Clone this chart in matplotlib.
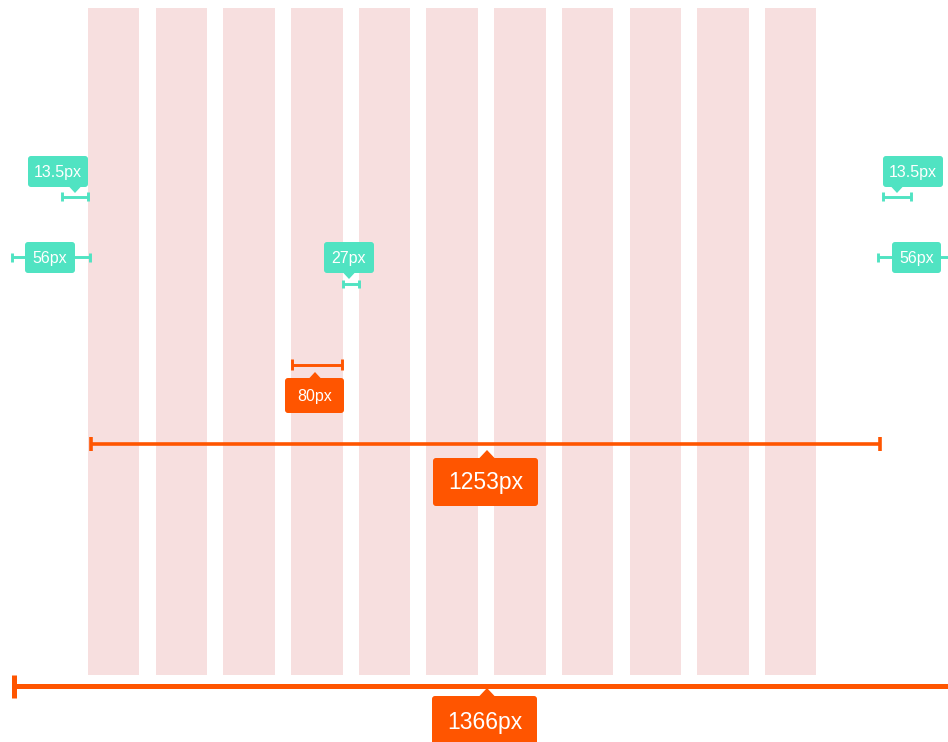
import matplotlib.pyplot as plt
from matplotlib.patches import FancyBboxPatch, Polygon

plt.rcParams['font.family'] = ['Liberation Sans', 'DejaVu Sans']

# %% 数据：栅格列与标注文字
col_id = list(range(11))
teal_labels = ['13.5px', '56px', '27px', '13.5px', '56px']
orange_labels = ['80px', '1253px', '1366px']

PINK = '#F7DFDF'
TEAL = '#50E3C2'
ORANGE = '#FF5500'

# 布局（图像像素坐标）
x0, pitch, col_w = 88, 67.7, 51.5
col_top, col_bottom = 8, 675


def dim(ax, xa, xb, y, color, lw, tick_h, ticks=(True, True)):
    ax.plot([xa, xb], [y, y], color=color, lw=lw, solid_capstyle='butt', zorder=3)
    for x, on in zip((xa, xb), ticks):
        if on:
            ax.plot([x, x], [y - tick_h / 2, y + tick_h / 2], color=color,
                    lw=lw, solid_capstyle='butt', zorder=3)


def tag(ax, left, top, w, h, text, color, fs, ptr_x=None, ptr='down', ptr_w=12, ptr_h=6):
    box = FancyBboxPatch((left, top), w, h,
                         boxstyle='round,pad=0,rounding_size=3',
                         fc=color, ec='none', zorder=4)
    ax.add_patch(box)
    if ptr_x is not None:
        if ptr == 'down':
            pts = [(ptr_x - ptr_w / 2, top + h - 0.5), (ptr_x + ptr_w / 2, top + h - 0.5),
                   (ptr_x, top + h + ptr_h)]
        else:
            pts = [(ptr_x - ptr_w / 2, top + 0.5), (ptr_x + ptr_w / 2, top + 0.5),
                   (ptr_x, top - ptr_h)]
        ax.add_patch(Polygon(pts, closed=True, fc=color, ec='none', zorder=4))
    ax.text(left + w / 2, top + h / 2 + 0.5, text, color='white', fontsize=fs,
            ha='center', va='center', zorder=5)


fig = plt.figure(figsize=(9.48, 7.42), dpi=100)
ax = fig.add_axes([0, 0, 1, 1])
ax.set_xlim(0, 948)
ax.set_ylim(742, 0)
ax.axis('off')

# %% 栅格列
xs = [x0 + i * pitch for i in col_id]
ax.bar(xs, col_bottom - col_top, width=col_w, bottom=col_top,
       align='edge', color=PINK, zorder=1)

# %% 绿色标注
dim(ax, 62, 88, 196.5, TEAL, 2.1, 9)
tag(ax, 28, 156, 60, 31, teal_labels[0], TEAL, 11.5, ptr_x=75)

dim(ax, 12, 90, 257, TEAL, 2.1, 9)
tag(ax, 25, 242, 50, 31, teal_labels[1], TEAL, 11.5)

dim(ax, 343, 359, 284, TEAL, 2.1, 8)
tag(ax, 324, 242, 50, 31, teal_labels[2], TEAL, 11.5, ptr_x=349)

dim(ax, 883, 911, 196.5, TEAL, 2.1, 9)
tag(ax, 883, 156, 60, 31, teal_labels[3], TEAL, 11.5, ptr_x=897)

dim(ax, 878, 950, 257, TEAL, 2.1, 9, ticks=(True, False))
tag(ax, 892, 242, 49, 31, teal_labels[4], TEAL, 11.5)

# %% 橙色标注
dim(ax, 292, 342, 364.5, ORANGE, 2.1, 11)
tag(ax, 285, 378, 59, 35, orange_labels[0], ORANGE, 11.5, ptr_x=315, ptr='up')

dim(ax, 91, 880, 444, ORANGE, 2.6, 14)
tag(ax, 433, 458, 105, 48, orange_labels[1], ORANGE, 16.5, ptr_x=487, ptr='up',
    ptr_w=16, ptr_h=8)

dim(ax, 14, 952, 686, ORANGE, 3.6, 23, ticks=(True, False))
tag(ax, 432, 696, 105, 52, orange_labels[2], ORANGE, 16.5, ptr_x=487, ptr='up',
    ptr_w=16, ptr_h=8)

fig.savefig('out.png', dpi=100)
